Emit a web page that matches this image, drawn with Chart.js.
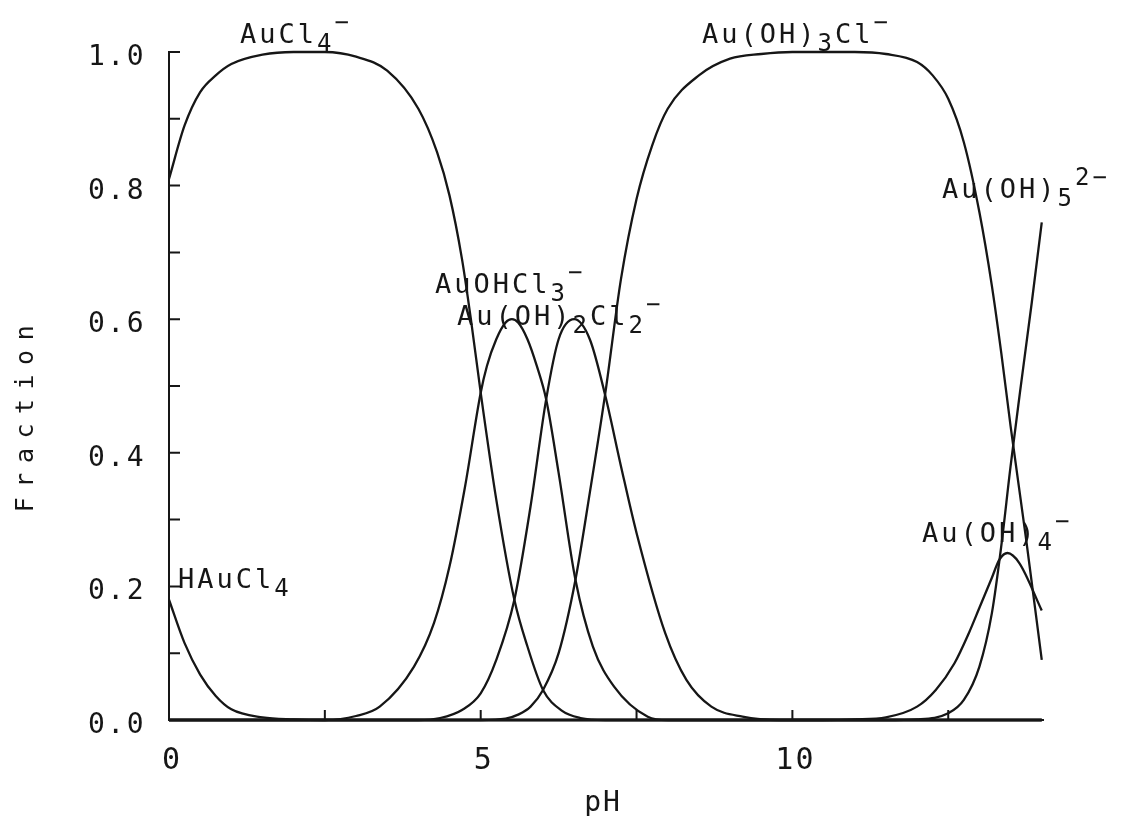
<!DOCTYPE html>
<html>
<head>
<meta charset="utf-8">
<title>Au(III) species vs pH</title>
<script src="https://cdn.jsdelivr.net/npm/chart.js@4.4.0/dist/chart.umd.min.js"></script>
<style>
    html, body { margin: 0; padding: 0; background: #fff; }
    #wrap { width: 1125px; height: 816px; }
</style>
</head>
<body>
<div id="wrap"><canvas id="grafico" width="1125" height="816"></canvas></div>
<script>
// values (pH, fraction) for each species
const phHAuCl4   = [0, 0.25, 0.5, 0.75, 1.0, 1.5, 2.0, 2.5, 14];
const fracHAuCl4 = [0.18, 0.115, 0.068, 0.036, 0.016, 0.004, 0.001, 0, 0];

const phAuCl4   = [0, 0.25, 0.5, 0.75, 1.0, 1.5, 2.0, 2.5, 3.0, 3.5, 4.0, 4.3, 4.5, 4.7, 4.85, 5.0, 5.25, 5.54, 5.75, 6.0, 6.3, 6.6, 7.0, 14];
const fracAuCl4 = [0.81, 0.89, 0.94, 0.965, 0.982, 0.996, 1.0, 1.0, 0.993, 0.972, 0.915, 0.85, 0.785, 0.69, 0.595, 0.49, 0.33, 0.18, 0.11, 0.045, 0.014, 0.003, 0, 0];

const phAuOHCl3   = [0, 2.5, 3.0, 3.38, 3.93, 4.25, 4.5, 4.75, 5.0, 5.1, 5.25, 5.4, 5.5, 5.6, 5.75, 5.9, 6.05, 6.25, 6.52, 6.8, 7.14, 7.68, 8.0, 14];
const fracAuOHCl3 = [0, 0, 0.006, 0.02, 0.08, 0.145, 0.23, 0.35, 0.49, 0.53, 0.57, 0.595, 0.6, 0.595, 0.57, 0.53, 0.48, 0.37, 0.21, 0.11, 0.05, 0.005, 0, 0];

const phAuOH2Cl2   = [0, 4.0, 4.35, 4.7, 5.0, 5.25, 5.54, 5.8, 6.05, 6.25, 6.5, 6.75, 7.0, 7.25, 7.5, 7.96, 8.3, 8.7, 9.2, 9.8, 14];
const fracAuOH2Cl2 = [0, 0, 0.003, 0.015, 0.04, 0.09, 0.18, 0.32, 0.48, 0.57, 0.6, 0.57, 0.485, 0.38, 0.28, 0.13, 0.06, 0.02, 0.005, 0, 0];

const phAuOH3Cl   = [0, 5.0, 5.4, 5.6, 5.8, 6.0, 6.25, 6.52, 6.75, 7.0, 7.25, 7.5, 7.75, 8.0, 8.5, 9.0, 9.5, 10, 11, 11.5, 12.0, 12.25, 12.5, 12.75, 13.0, 13.2, 13.35, 13.5, 13.75, 14.0];
const fracAuOH3Cl = [0, 0, 0.002, 0.008, 0.02, 0.045, 0.1, 0.21, 0.34, 0.49, 0.66, 0.78, 0.86, 0.915, 0.965, 0.99, 0.997, 1, 1, 0.997, 0.985, 0.965, 0.93, 0.865, 0.76, 0.65, 0.55, 0.44, 0.27, 0.09];

const phAuOH4   = [0, 10.5, 11.0, 11.5, 12.0, 12.3, 12.6, 12.83, 13.0, 13.2, 13.32, 13.45, 13.64, 14.0];
const fracAuOH4 = [0, 0, 0.001, 0.004, 0.02, 0.045, 0.085, 0.13, 0.168, 0.213, 0.24, 0.25, 0.235, 0.164];

const phAuOH5   = [0, 11.5, 12.0, 12.5, 12.75, 13.0, 13.2, 13.35, 13.5, 13.65, 13.84, 14.0];
const fracAuOH5 = [0, 0, 0.001, 0.01, 0.03, 0.08, 0.16, 0.26, 0.38, 0.49, 0.625, 0.745];

// axis ticks
const yTickValues = [0, 0.1, 0.2, 0.3, 0.4, 0.5, 0.6, 0.7, 0.8, 0.9, 1.0];
const yLabelValues = [0, 0.2, 0.4, 0.6, 0.8, 1.0];
const yLabelTexts = ['0.0', '0.2', '0.4', '0.6', '0.8', '1.0'];
const xTickValues = [2.5, 5, 7.5, 10, 12.5];
const xLabelValues = [0, 5, 10];
const xLabelTexts = ['0', '5', '10'];

document.addEventListener('DOMContentLoaded', function() {
    const ink = '#161616';
    const plotterFont = '"DejaVu Sans Mono", "Liberation Mono", monospace';

    // species names as [text, 'sub'|'sup'] pieces, placed at pixel anchors
    const speciesLabels = [
        { x: 240, y: 43,  parts: [['AuCl'], ['4', 'sub'], ['\u2212', 'sup']] },
        { x: 702, y: 43,  parts: [['Au(OH)'], ['3', 'sub'], ['Cl'], ['\u2212', 'sup']] },
        { x: 942, y: 198, parts: [['Au(OH)'], ['5', 'sub'], ['2\u2212', 'sup']] },
        { x: 435, y: 293, parts: [['AuOHCl'], ['3', 'sub'], ['\u2212', 'sup']] },
        { x: 457, y: 325, parts: [['Au(OH)'], ['2', 'sub'], ['Cl'], ['2', 'sub'], ['\u2212', 'sup']] },
        { x: 922, y: 542, parts: [['Au(OH)'], ['4', 'sub'], ['\u2212', 'sup']] },
        { x: 178, y: 588, parts: [['HAuCl'], ['4', 'sub']] }
    ];

    function toPoints(xs, ys) {
        return xs.map((v, i) => ({ x: v, y: ys[i] }));
    }

    function serie(nome, xs, ys) {
        return {
            label: nome,
            data: toPoints(xs, ys),
            borderColor: ink,
            borderWidth: 2.3,
            pointRadius: 0,
            fill: false,
            cubicInterpolationMode: 'monotone',
            clip: 6
        };
    }

    function drawRich(ctx, x, y, parts) {
        let cx = x;
        parts.forEach(p => {
            const kind = p[1];
            ctx.font = (kind ? 24 : 27) + 'px ' + plotterFont;
            const dy = kind === 'sub' ? 8 : kind === 'sup' ? -13 : 0;
            ctx.fillText(p[0], cx, y + dy);
            cx += ctx.measureText(p[0]).width;
        });
    }

    // inward ticks, tick labels, axis titles and species names
    const decor = {
        id: 'decor',
        afterDraw(chart) {
            const ctx = chart.ctx;
            const xs = chart.scales.x;
            const ys = chart.scales.y;
            ctx.save();
            ctx.strokeStyle = ink;
            ctx.lineWidth = 2;
            ctx.beginPath();
            yTickValues.forEach(v => {
                const py = ys.getPixelForValue(v);
                ctx.moveTo(xs.left, py);
                ctx.lineTo(xs.left + 11, py);
            });
            xTickValues.forEach(v => {
                const px = xs.getPixelForValue(v);
                ctx.moveTo(px, ys.bottom);
                ctx.lineTo(px, ys.bottom - 10);
            });
            ctx.stroke();

            ctx.fillStyle = ink;
            ctx.textBaseline = 'alphabetic';

            // y tick labels
            ctx.letterSpacing = '2.5px';
            ctx.font = '28px ' + plotterFont;
            ctx.textAlign = 'right';
            yLabelValues.forEach((v, i) => {
                ctx.fillText(yLabelTexts[i], 146, ys.getPixelForValue(v) + 13);
            });

            // x tick labels
            ctx.letterSpacing = '2px';
            ctx.font = '30px ' + plotterFont;
            ctx.textAlign = 'center';
            xLabelValues.forEach((v, i) => {
                ctx.fillText(xLabelTexts[i], xs.getPixelForValue(v) + 3, 769);
            });

            ctx.font = '28px ' + plotterFont;
            ctx.fillText('pH', 603, 811);

            ctx.save();
            ctx.translate(33, 419);
            ctx.rotate(-Math.PI / 2);
            ctx.letterSpacing = '9.5px';
            ctx.font = '25px ' + plotterFont;
            ctx.fillText('Fraction', 5, 0);
            ctx.restore();

            ctx.textAlign = 'left';
            ctx.letterSpacing = '3px';
            speciesLabels.forEach(l => drawRich(ctx, l.x, l.y, l.parts));
            ctx.restore();
        }
    };

    const canvas = document.getElementById('grafico');
    new Chart(canvas.getContext('2d'), {
        type: 'line',
        data: {
            datasets: [
                serie('HAuCl4', phHAuCl4, fracHAuCl4),
                serie('AuCl4-', phAuCl4, fracAuCl4),
                serie('AuOHCl3-', phAuOHCl3, fracAuOHCl3),
                serie('Au(OH)2Cl2-', phAuOH2Cl2, fracAuOH2Cl2),
                serie('Au(OH)3Cl-', phAuOH3Cl, fracAuOH3Cl),
                serie('Au(OH)4-', phAuOH4, fracAuOH4),
                serie('Au(OH)5 2-', phAuOH5, fracAuOH5)
            ]
        },
        options: {
            responsive: false,
            animation: false,
            devicePixelRatio: 1,
            layout: { padding: { left: 0, right: 82, top: 52, bottom: 0 } },
            plugins: {
                legend: { display: false },
                tooltip: { enabled: false }
            },
            scales: {
                x: {
                    type: 'linear',
                    min: 0,
                    max: 14.02,
                    grid: { display: true, drawOnChartArea: false, drawTicks: false },
                    border: { display: true, color: ink, width: 2 },
                    ticks: { display: false },
                    afterFit: s => { s.height = 96; }
                },
                y: {
                    min: 0,
                    max: 1.0,
                    grid: { display: true, drawOnChartArea: false, drawTicks: false },
                    border: { display: true, color: ink, width: 2 },
                    ticks: { display: false },
                    afterFit: s => { s.width = 169; }
                }
            }
        },
        plugins: [decor]
    });
});
</script>
</body>
</html>
